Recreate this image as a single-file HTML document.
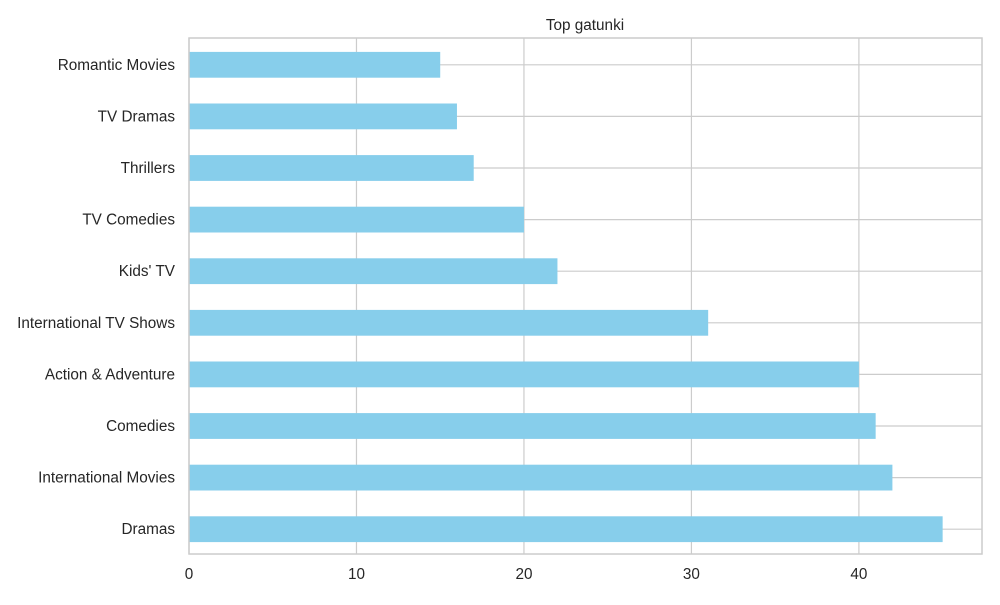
<!DOCTYPE html>
<html><head><meta charset="utf-8"><style>
body{margin:0;background:#fff;font-family:"Liberation Sans",sans-serif;}
</style></head><body>
<svg id="chart" width="1000" height="600" xmlns="http://www.w3.org/2000/svg"></svg>
<script>
const categories=["Dramas","International Movies","Comedies","Action & Adventure","International TV Shows","Kids' TV","TV Comedies","Thrillers","TV Dramas","Romantic Movies"];
const values=[45,42,41,40,31,22,20,17,16,15];
const xTicks=[0,10,20,30,40];
const title="Top gatunki";
const svg=document.getElementById('chart');
const NS="http://www.w3.org/2000/svg";
const L=189,R=982,T=38,B=554,xMax=47.35;
const x=v=>L+(v/xMax)*(R-L);
const n=categories.length;
const step=(B-T)/n;
const y=i=>B-step*(i+0.5)+1;
function mk(tag,attrs,name){const e=document.createElementNS(NS,tag);for(const k in attrs)e.setAttribute(k,attrs[k]);


svg.appendChild(e);return e;}
xTicks.forEach(t=>{mk('line',{x1:x(t),x2:x(t),y1:T,y2:B,stroke:'#cccccc','stroke-width':1.2},'x-gridline');
const tx=mk('text',{x:x(t),y:579,'text-anchor':'middle','font-size':15.3,fill:'#262626'},'x-tick-label');tx.textContent=t;});
categories.forEach((c,i)=>{mk('line',{x1:L,x2:R,y1:y(i),y2:y(i),stroke:'#cccccc','stroke-width':1.2},'y-gridline');});
categories.forEach((c,i)=>{
mk('rect',{x:L,y:y(i)-step*0.25,width:x(values[i])-L,height:step*0.5,fill:'#87ceeb'},'bar-'+c.toLowerCase().replace(/[^a-z]+/g,'-'));
const tl=mk('text',{x:175,y:y(i)+5,'text-anchor':'end','font-size':15.3,fill:'#262626'},'y-tick-label');tl.textContent=c;});
mk('rect',{x:L,y:T,width:R-L,height:B-T,fill:'none',stroke:'#cccccc','stroke-width':1.5},'plot-frame');
const tt=mk('text',{x:585,y:30,'text-anchor':'middle','font-size':15.3,fill:'#262626'},'chart-title');tt.textContent=title;
</script>
</body></html>
